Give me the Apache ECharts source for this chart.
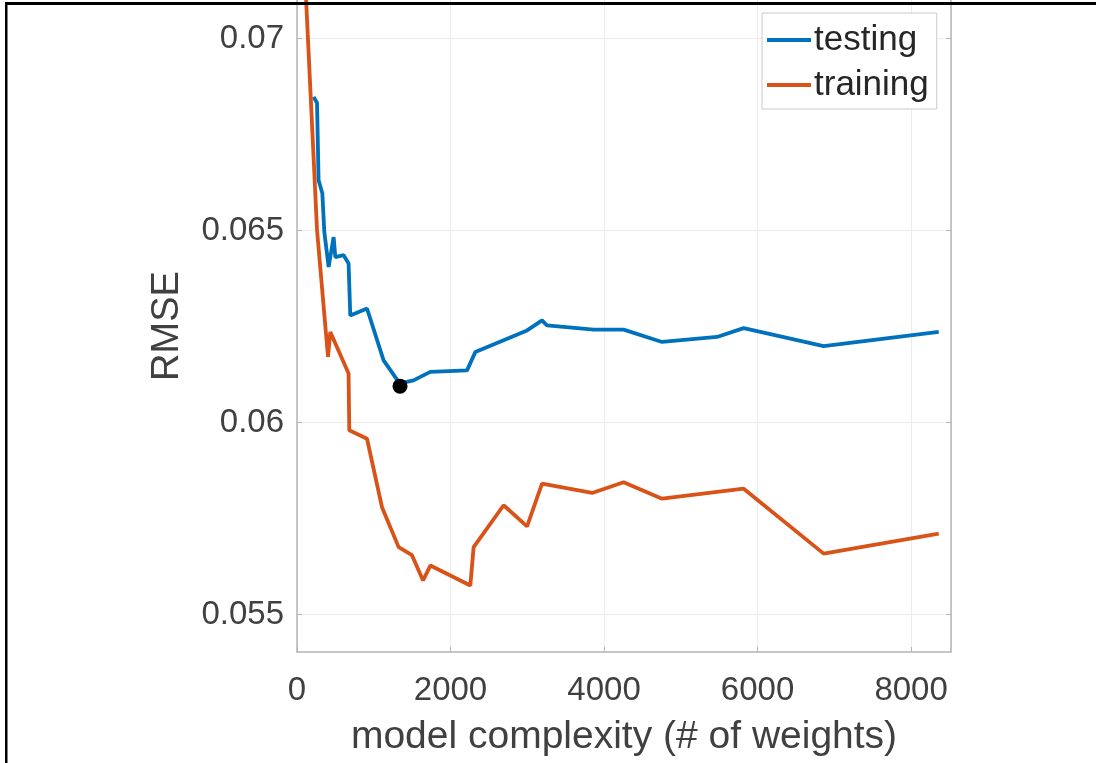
<!DOCTYPE html>
<html>
<head>
<meta charset="utf-8">
<script src="https://cdn.jsdelivr.net/npm/echarts@6/dist/echarts.min.js"></script>
<style>
  html, body { margin: 0; padding: 0; background: #fff; }
  #chart { width: 1096px; height: 763px; }
</style>
</head>
<body>
<div id="chart"></div>
<script>
// ---- data ----
const testingX = [216, 261, 281, 330, 356, 412, 477, 499, 607, 672, 694, 912, 1128, 1337, 1519, 1607, 1737, 2215, 2323, 2997, 3192, 3257, 3865, 4255, 4756, 5472, 5819, 6861, 8360];
const testingRMSE = [0.06848, 0.06832, 0.06631, 0.06597, 0.06496, 0.06405, 0.06483, 0.06431, 0.06436, 0.06414, 0.06279, 0.06297, 0.06162, 0.06102, 0.06110, 0.06119, 0.06132, 0.06136, 0.06184, 0.06240, 0.06266, 0.06253, 0.06242, 0.06242, 0.06210, 0.06223, 0.06246, 0.06199, 0.06236];

const trainingX = [95, 261, 404, 434, 672, 681, 912, 1107, 1324, 1498, 1642, 1737, 2258, 2301, 2692, 2997, 3192, 3844, 4255, 4756, 5819, 6861, 8360];
const trainingRMSE = [0.0720, 0.06501, 0.06171, 0.06236, 0.06128, 0.05980, 0.05958, 0.05780, 0.05676, 0.05655, 0.05589, 0.05628, 0.05576, 0.05676, 0.05785, 0.05730, 0.05841, 0.05817, 0.05845, 0.05802, 0.05828, 0.05659, 0.05711];

const bestPoint = [1342, 0.06095];

const xTicks = [0, 2000, 4000, 6000, 8000];
const yTicks = [0.055, 0.06, 0.065, 0.07];
const yTickLabels = ['0.055', '0.06', '0.065', '0.07'];
const xRange = [0, 8520];
const yRange = [0.05403, 0.0710];

const seriesNames = ['testing', 'training'];
const xTitle = 'model complexity (# of weights)';
const yTitle = 'RMSE';

// ---- build ----
const pairs = (xs, ys) => xs.map((x, i) => [x, ys[i]]);
const FONT = 'Liberation Sans';
const TXT = '#404040';
const AXIS = '#b4b4b4';
const GRID = '#ececec';

const chart = echarts.init(document.getElementById('chart'), null, { renderer: 'canvas' });
chart.setOption({
  animation: false,
  backgroundColor: '#fff',
  textStyle: { fontFamily: FONT },
  grid: { left: 297, right: 145, top: 0, bottom: 111, containLabel: false },
  legend: {
    data: seriesNames,
    orient: 'vertical',
    left: 762, top: 13,
    padding: [7, 8, 4, 5],
    itemGap: 5,
    itemWidth: 44,
    itemHeight: 4,
    icon: 'rect',
    backgroundColor: '#fff',
    borderColor: '#c8c8c8',
    borderWidth: 1,
    textStyle: { fontFamily: FONT, fontSize: 35, lineHeight: 40, color: '#262626', padding: [0, 0, 0, -2] }
  },
  xAxis: {
    type: 'value',
    min: xRange[0], max: xRange[1],
    interval: 2000,
    name: xTitle,
    nameLocation: 'middle',
    nameGap: 66,
    nameTextStyle: { fontFamily: FONT, fontSize: 39, color: TXT },
    axisLine: { show: true, onZero: false, lineStyle: { color: AXIS, width: 1.5 } },
    axisTick: { show: true, inside: true, length: 5, lineStyle: { color: AXIS } },
    axisLabel: {
      fontFamily: FONT, fontSize: 33, color: TXT, margin: 22,
      showMaxLabel: false,
      formatter: v => (xTicks.indexOf(v) >= 0 ? String(v) : '')
    },
    splitLine: { show: true, lineStyle: { color: GRID, width: 1 } }
  },
  yAxis: [{
    type: 'value',
    min: yRange[0], max: yRange[1],
    name: yTitle,
    nameLocation: 'middle',
    nameGap: 110,
    nameTextStyle: { fontFamily: FONT, fontSize: 38, color: TXT },
    axisLine: { show: true, lineStyle: { color: AXIS, width: 1.5 } },
    axisTick: { show: true, inside: true, length: 5, customValues: yTicks, lineStyle: { color: AXIS } },
    axisLabel: {
      fontFamily: FONT, fontSize: 33, color: TXT, margin: 13,
      customValues: yTicks,
      formatter: v => {
        const i = yTicks.findIndex(t => Math.abs(t - v) < 1e-9);
        return i >= 0 ? yTickLabels[i] : '';
      }
    },
    splitLine: { show: true, lineStyle: { color: GRID, width: 1 } }
  }, {
    type: 'value',
    position: 'right',
    min: yRange[0], max: yRange[1],
    axisLine: { show: true, lineStyle: { color: AXIS, width: 1.5 } },
    axisTick: { show: true, inside: true, length: 5, customValues: yTicks, lineStyle: { color: AXIS } },
    axisLabel: { show: false },
    splitLine: { show: false }
  }],
  series: [{
    name: seriesNames[0],
    type: 'line',
    data: pairs(testingX, testingRMSE),
    showSymbol: false, symbol: 'none',
    lineStyle: { color: '#0072BD', width: 3.8 },
    itemStyle: { color: '#0072BD' },
    z: 3
  }, {
    name: seriesNames[1],
    type: 'line',
    data: pairs(trainingX, trainingRMSE),
    showSymbol: false, symbol: 'none',
    lineStyle: { color: '#D95319', width: 3.8 },
    itemStyle: { color: '#D95319' },
    z: 4
  }, {
    name: 'best',
    type: 'scatter',
    data: [bestPoint],
    symbolSize: 15,
    itemStyle: { color: '#000', opacity: 1 },
    z: 5
  }],
  graphic: [
    { type: 'rect', left: 5, top: 2, shape: { width: 1091, height: 3 }, style: { fill: '#000' }, z: 100 },
    { type: 'rect', left: 5, top: 2, shape: { width: 2.5, height: 761 }, style: { fill: '#000' }, z: 100 }
  ]
});
</script>
</body>
</html>
